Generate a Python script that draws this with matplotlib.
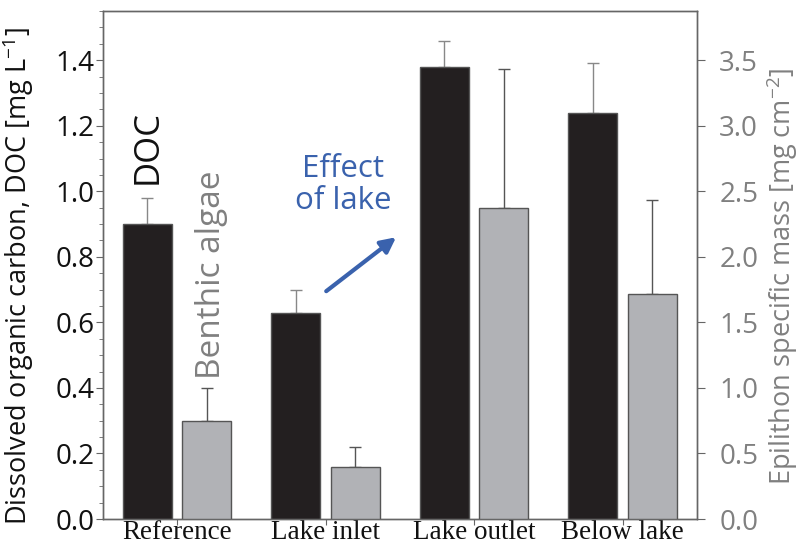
import matplotlib
matplotlib.use("Agg")
import matplotlib.pyplot as plt
import numpy as np

categories = ["Reference", "Lake inlet", "Lake outlet", "Below lake"]
doc_values = [0.90, 0.63, 1.38, 1.24]
doc_err = [0.08, 0.07, 0.08, 0.15]
algae_values = [0.75, 0.40, 2.37, 1.72]
algae_err = [0.25, 0.15, 1.06, 0.71]
left_ticks = [0.0, 0.2, 0.4, 0.6, 0.8, 1.0, 1.2, 1.4]
right_ticks = [0.0, 0.5, 1.0, 1.5, 2.0, 2.5, 3.0, 3.5]

SANS = ["Open Sans", "DejaVu Sans"]
SERIF = ["Liberation Serif", "DejaVu Serif"]
plt.rcParams['font.family'] = SANS
plt.rcParams['mathtext.fontset'] = 'custom'
plt.rcParams['mathtext.rm'] = 'Open Sans'

fig = plt.figure(figsize=(8.02, 5.45), dpi=100)
ax = fig.add_axes([0.128, 0.0477, 0.741, 0.932])
ax2 = ax.twinx()

x = np.arange(len(categories))
w = 0.33
off = 0.2
black = "#231f20"
gray = "#b1b2b6"
spine_c = "#666666"
rgray = "#808080"

ax.bar(x - off, doc_values, w, color=black, edgecolor="#555555", linewidth=1.0, zorder=3)
ax.errorbar(x - off, doc_values, yerr=[np.zeros(4), doc_err], fmt='none',
            ecolor="#888888", elinewidth=1.0, capsize=4, capthick=1.0, zorder=2)
ax2.bar(x + off, algae_values, w, color=gray, edgecolor="#555555", linewidth=1.0, zorder=3)
ax2.errorbar(x + off, algae_values, yerr=[np.zeros(4), algae_err], fmt='none',
             ecolor="#555555", elinewidth=1.0, capsize=4, capthick=1.0, zorder=2)

ax.set_xlim(-0.5, 3.5)
ax.set_ylim(0, 1.55)
ax2.set_ylim(0, 1.55 * 2.5)

ax.set_yticks(left_ticks)
ax.set_yticklabels([f"{t:.1f}" for t in left_ticks], fontsize=20, color="#111111")
ax.set_yticks(np.arange(0, 1.551, 0.05), minor=True)
ax2.set_yticks(right_ticks)
ax2.set_yticklabels([f"{t:.1f}" for t in right_ticks], fontsize=20, color=rgray)

ax.set_xticks(x)
ax.set_xticklabels(categories, fontsize=19.5, family=SERIF, color="#111111")
ax.tick_params(axis='x', length=4, color=spine_c, pad=-3)
ax.tick_params(axis='y', which='major', length=5, color=spine_c, pad=1)
ax.tick_params(axis='y', which='minor', length=3, color=spine_c)
ax2.tick_params(axis='y', length=6, color=spine_c, pad=10)

for a in (ax, ax2):
    for s in a.spines.values():
        s.set_color(spine_c)
        s.set_linewidth(1.0)

ax.set_ylabel("Dissolved organic carbon, DOC [mg L$^{-1}$]", fontsize=19.5, color="#111111")
ax2.set_ylabel("Epilithon specific mass [mg cm$^{-2}$]", fontsize=19.5, color=rgray)
ax.yaxis.set_label_coords(-0.112, 0.478)
ax2.yaxis.set_label_coords(1.114, 0.478)

ax.text(-0.2, 1.134, "DOC", rotation=90, ha='center', va='center', fontsize=25, color="#111111")
ax.text(0.235, 0.744, "Benthic algae", rotation=90, ha='center', va='center', fontsize=24, color=rgray)
ax.text(1.12, 1.02, "Effect\nof lake", ha='center', va='center', fontsize=22.5, color="#3a62ad",
        linespacing=1.1)
ax.annotate("", xy=(1.49, 0.865), xytext=(0.99, 0.69),
            arrowprops=dict(arrowstyle="-|>,head_length=0.9,head_width=0.45", color="#3a62ad", lw=3))

fig.savefig("out.png", dpi=100)
